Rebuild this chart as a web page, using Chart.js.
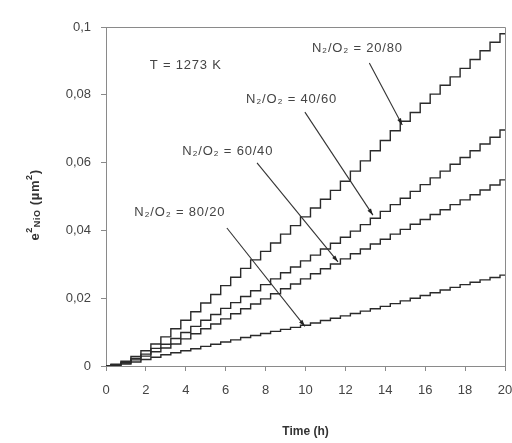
<!DOCTYPE html>
<html>
<head>
<meta charset="utf-8">
<script src="https://cdn.jsdelivr.net/npm/chart.js@4/dist/chart.umd.min.js"></script>
<style>
    html, body { margin: 0; padding: 0; background: #fff; }
    #wrap { width: 512px; height: 443px; }
</style>
</head>
<body>
<div id="wrap"><canvas id="oxChart"></canvas></div>
<script>
// time (h), read every half hour
const times = [0, 0.5, 1, 1.5, 2, 2.5, 3, 3.5, 4, 4.5, 5, 5.5, 6, 6.5, 7, 7.5, 8, 8.5, 9, 9.5, 10,
    10.5, 11, 11.5, 12, 12.5, 13, 13.5, 14, 14.5, 15, 15.5, 16, 16.5, 17, 17.5, 18, 18.5, 19, 19.5, 20];

// e² NiO (µm²) for each N2/O2 mixture
const mix20_80 = [0, 0.0005, 0.0014, 0.0028, 0.0045, 0.0065, 0.0086, 0.0110, 0.0135, 0.0160, 0.0186,
    0.0211, 0.0237, 0.0262, 0.0288, 0.0313, 0.0338, 0.0363, 0.0389, 0.0414, 0.0440,
    0.0466, 0.0492, 0.0518, 0.0545, 0.0575, 0.0605, 0.0635, 0.0665, 0.0694, 0.0722,
    0.0748, 0.0775, 0.0802, 0.0828, 0.0853, 0.0878, 0.0904, 0.0930, 0.0955, 0.0980];
const mix40_60 = [0, 0.0004, 0.0011, 0.0022, 0.0035, 0.0052, 0.0064, 0.0081, 0.0099, 0.0117, 0.0135,
    0.0152, 0.0170, 0.0187, 0.0205, 0.0222, 0.0240, 0.0257, 0.0275, 0.0292, 0.0310,
    0.0327, 0.0345, 0.0362, 0.0380, 0.0398, 0.0417, 0.0436, 0.0456, 0.0476, 0.0495,
    0.0515, 0.0535, 0.0555, 0.0575, 0.0595, 0.0615, 0.0635, 0.0655, 0.0675, 0.0696];
const mix60_40 = [0, 0.0003, 0.0009, 0.0018, 0.0029, 0.0042, 0.0053, 0.0065, 0.0080, 0.0095, 0.0110,
    0.0124, 0.0139, 0.0154, 0.0169, 0.0183, 0.0198, 0.0213, 0.0228, 0.0242, 0.0257,
    0.0272, 0.0287, 0.0301, 0.0316, 0.0331, 0.0345, 0.0360, 0.0374, 0.0389, 0.0403,
    0.0418, 0.0432, 0.0447, 0.0461, 0.0476, 0.0490, 0.0505, 0.0519, 0.0534, 0.0549];
const mix80_20 = [0, 0.0002, 0.0006, 0.0012, 0.0019, 0.0026, 0.0033, 0.0039, 0.0045, 0.0051, 0.0058,
    0.0064, 0.0071, 0.0077, 0.0084, 0.0090, 0.0096, 0.0102, 0.0108, 0.0114, 0.0120,
    0.0127, 0.0134, 0.0141, 0.0148, 0.0155, 0.0162, 0.0169, 0.0176, 0.0184, 0.0192,
    0.0200, 0.0208, 0.0216, 0.0224, 0.0232, 0.0240, 0.0247, 0.0254, 0.0261, 0.0268];

const seriesNames = ['N₂/O₂ = 20/80', 'N₂/O₂ = 40/60', 'N₂/O₂ = 60/40', 'N₂/O₂ = 80/20'];
const seriesValues = [mix20_80, mix40_60, mix60_40, mix80_20];

const xTicks = [0, 2, 4, 6, 8, 10, 12, 14, 16, 18, 20];
const yTicks = [0, 0.02, 0.04, 0.06, 0.08, 0.1];

// labels placed in data units: text centre, arrow start, arrow tip
const notes = [
    { text: 'T = 1273 K', at: [4.0, 0.0888] },
    { text: seriesNames[0], at: [12.6, 0.0938], from: [13.2, 0.0894], to: [14.85, 0.0711] },
    { text: seriesNames[1], at: [9.3, 0.0785], from: [9.97, 0.0749], to: [13.38, 0.0445] },
    { text: seriesNames[2], at: [6.1, 0.0634], from: [7.57, 0.0599], to: [11.63, 0.0307] },
    { text: seriesNames[3], at: [3.7, 0.0454], from: [6.06, 0.0407], to: [9.97, 0.0117] }
];

const FONT = "'Liberation Sans', Arial, sans-serif";
const INK = '#2a2a2a';

function fmtComma(v) {
    return String(+v.toFixed(2)).replace('.', ',');
}

const annotatePlugin = {
    id: 'annotate',
    afterDatasetsDraw(chart) {
        const { ctx, chartArea: a, scales: { x, y } } = chart;
        ctx.save();

        // frame on top and right
        ctx.strokeStyle = '#8a8a8a';
        ctx.lineWidth = 1;
        ctx.beginPath();
        ctx.moveTo(a.left, a.top + 0.5);
        ctx.lineTo(a.right + 0.5, a.top + 0.5);
        ctx.lineTo(a.right + 0.5, a.bottom);
        ctx.stroke();

        ctx.fillStyle = '#444';
        ctx.font = '13px ' + FONT;
        ctx.letterSpacing = '0.8px';
        ctx.textAlign = 'center';
        ctx.textBaseline = 'middle';
        notes.forEach(n => {
            ctx.fillText(n.text, x.getPixelForValue(n.at[0]), y.getPixelForValue(n.at[1]));
            if (!n.from) return;
            const x1 = x.getPixelForValue(n.from[0]), y1 = y.getPixelForValue(n.from[1]);
            const x2 = x.getPixelForValue(n.to[0]), y2 = y.getPixelForValue(n.to[1]);
            ctx.strokeStyle = '#333';
            ctx.lineWidth = 1.1;
            ctx.beginPath();
            ctx.moveTo(x1, y1);
            ctx.lineTo(x2, y2);
            ctx.stroke();
            // arrow head
            const ang = Math.atan2(y2 - y1, x2 - x1);
            ctx.fillStyle = '#222';
            ctx.beginPath();
            ctx.moveTo(x2, y2);
            ctx.lineTo(x2 - 7 * Math.cos(ang - 0.3), y2 - 7 * Math.sin(ang - 0.3));
            ctx.lineTo(x2 - 7 * Math.cos(ang + 0.3), y2 - 7 * Math.sin(ang + 0.3));
            ctx.closePath();
            ctx.fill();
            ctx.fillStyle = '#444';
        });

        // y axis title: e² with NiO subscript
        ctx.translate(35, 205);
        ctx.rotate(-Math.PI / 2);
        ctx.fillStyle = '#333';
        ctx.textAlign = 'left';
        ctx.letterSpacing = '0.6px';
        const parts = [
            { t: 'e', f: 'bold 13px ', dy: 0 },
            { t: '2', f: 'bold 9px ', dy: -5 },
            { t: 'NiO', f: 'bold 9px ', dy: 3 },
            { t: ' (µm', f: 'bold 13px ', dy: 0 },
            { t: '2', f: 'bold 9px ', dy: -5 },
            { t: ')', f: 'bold 13px ', dy: 0 }
        ];
        let w = 0;
        parts.forEach(p => { ctx.font = p.f + FONT; w += ctx.measureText(p.t).width; });
        let cx = -w / 2;
        parts.forEach(p => {
            ctx.font = p.f + FONT;
            ctx.fillText(p.t, cx, p.dy);
            cx += ctx.measureText(p.t).width;
        });
        ctx.restore();
    }
};

document.addEventListener('DOMContentLoaded', () => {
    new Chart(document.getElementById('oxChart'), {
        type: 'line',
        data: {
            datasets: seriesValues.map((vals, i) => ({
                label: seriesNames[i],
                data: vals.map((v, k) => ({ x: times[k], y: v })),
                borderColor: INK,
                borderWidth: 1.4,
                pointRadius: 0,
                stepped: 'middle',
                fill: false
            }))
        },
        options: {
            responsive: true,
            maintainAspectRatio: false,
            animation: false,
            layout: { padding: { top: 27, right: 7, left: 0, bottom: 0 } },
            plugins: {
                legend: { display: false },
                tooltip: { enabled: false }
            },
            scales: {
                x: {
                    type: 'linear',
                    min: 0,
                    max: 20,
                    afterBuildTicks: s => { s.ticks = xTicks.map(v => ({ value: v })); },
                    afterFit: s => { s.height = 77; s.paddingRight = 0; s.paddingLeft = 0; },
                    border: { color: '#8a8a8a', width: 1 },
                    grid: { drawOnChartArea: false, tickLength: 5, color: '#8a8a8a' },
                    ticks: {
                        color: '#444',
                        padding: 12,
                        maxRotation: 0,
                        font: { family: FONT, size: 13 }
                    },
                    title: {
                        display: true,
                        text: 'Time (h)',
                        color: '#333',
                        padding: { top: 8 },
                        font: { family: FONT, size: 12, weight: 'bold' }
                    }
                },
                y: {
                    min: 0,
                    max: 0.1,
                    afterBuildTicks: s => { s.ticks = yTicks.map(v => ({ value: v })); },
                    afterFit: s => { s.width = 106; s.paddingTop = 0; s.paddingBottom = 0; },
                    border: { color: '#8a8a8a', width: 1 },
                    grid: { drawOnChartArea: false, tickLength: 5, color: '#8a8a8a' },
                    ticks: {
                        color: '#444',
                        padding: 10,
                        font: { family: FONT, size: 13 },
                        callback: v => fmtComma(v)
                    }
                }
            }
        },
        plugins: [annotatePlugin]
    });
});
</script>
</body>
</html>
